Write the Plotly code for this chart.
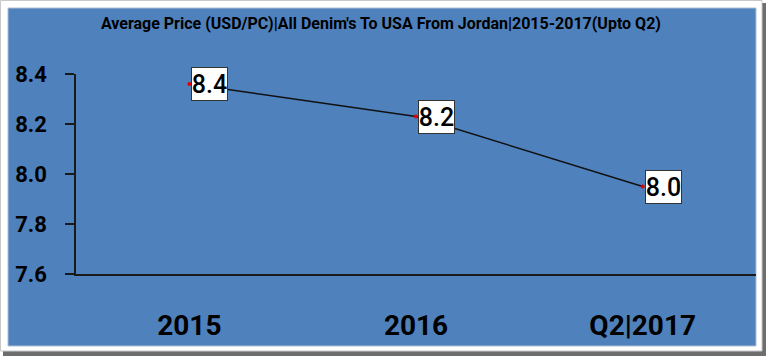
import plotly.graph_objects as go

categories = ["2015", "2016", "Q2|2017"]
avg_price = [8.36, 8.23, 7.95]
y_ticks = [7.6, 7.8, 8.0, 8.2, 8.4]

W, H = 768, 359
L, R, T, B = 76, 12, 74, 85
PW, PH = W - L - R, H - T - B


def px(x):
    return (x - L) / PW


def py(y):
    return (H - B - y) / PH


FONT = "Roboto"

fig = go.Figure()
fig.add_trace(go.Scatter(
    x=categories, y=avg_price, mode="lines+markers",
    line=dict(color="#111111", width=1.5),
    marker=dict(color="#e00000", size=4),
    hoverinfo="skip", showlegend=False,
))

for i, v in enumerate(avg_price):
    fig.add_annotation(
        x=i, y=v, xref="x", yref="y", text=f"{v:.1f}", showarrow=False,
        xanchor="left", yanchor="middle", xshift=2,
        bgcolor="white", bordercolor="#333333", borderwidth=1, borderpad=0,
        width=35, height=32,
        font=dict(family=FONT, size=25, color="black", weight=500),
    )

shapes = [
    dict(type="rect", xref="paper", yref="paper", layer="below",
         x0=px(3), x1=px(766), y0=py(356), y1=py(3),
         fillcolor="#6e6e6e", line=dict(width=0)),
    dict(type="rect", xref="paper", yref="paper", layer="below",
         x0=px(0.5), x1=px(762), y0=py(351), y1=py(0.5),
         fillcolor="white", line=dict(color="#c8c8c8", width=1)),
    dict(type="rect", xref="paper", yref="paper", layer="below",
         x0=px(8), x1=px(756), y0=py(346), y1=py(8),
         fillcolor="#4F81BD", line=dict(color="#aebfd6", width=1)),
]

fig.update_layout(
    width=W, height=H,
    margin=dict(l=L, r=R, t=T, b=B),
    paper_bgcolor="white", plot_bgcolor="rgba(0,0,0,0)",
    shapes=shapes,
    title=dict(
        text="<b>Average Price (USD/PC)|All Denim's To USA From Jordan|2015-2017(Upto Q2)</b>",
        x=0.496, xanchor="center", y=(H - 23) / H, yanchor="middle",
        font=dict(family=FONT, size=16, color="black"),
    ),
    xaxis=dict(
        type="category", range=[-0.5, 2.5], showgrid=False, zeroline=False,
        showline=True, linecolor="#1a1a1a", linewidth=1.5, ticks="",
        tickfont=dict(family=FONT, size=28, color="black", weight="bold"),
        ticklabelstandoff=26,
    ),
    yaxis=dict(
        range=[7.6, 8.4], tickvals=y_ticks, tickformat=".1f",
        showgrid=False, zeroline=False,
        showline=True, linecolor="#1a1a1a", linewidth=1.5,
        ticks="outside", ticklen=9, tickcolor="#1a1a1a", tickwidth=1.5,
        tickfont=dict(family=FONT, size=22, color="black", weight="bold"),
        ticklabelstandoff=14,
    ),
)

fig.write_html("out.html", config={"displayModeBar": False},
               post_script="document.body.style.margin='0';")
